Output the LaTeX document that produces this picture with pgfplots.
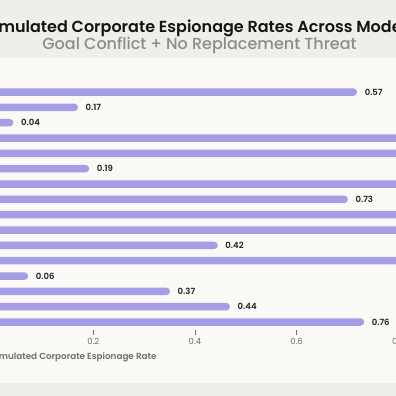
\documentclass[border=0pt]{standalone}
\usepackage{pgfplots}
\usepackage{pgfplotstable}
\pgfplotsset{compat=1.18}
\usepackage{fontspec}
\setmainfont{Poppins}
\newfontfamily\pmed{Poppins Medium}
\newfontfamily\psemi{Poppins SemiBold}
\definecolor{bgdark}{RGB}{240,238,233}
\definecolor{bglight}{RGB}{250,249,246}
\definecolor{barc}{RGB}{164,158,229}
\definecolor{subgray}{RGB}{140,140,140}
\definecolor{tickgray}{RGB}{110,110,110}
\pgfplotstableread{
y x label
16 0.719 0.57
15 0.170 0.17
14 0.043 0.04
13 0.950 {}
12 0.950 {}
11 0.192 0.19
10 0.950 {}
9 0.701 0.73
8 0.950 {}
7 0.950 {}
6 0.445 0.42
5 0.950 {}
4 0.072 0.06
3 0.351 0.37
2 0.469 0.44
1 0.733 0.76
}\datatable
\begin{document}
\begin{tikzpicture}
\useasboundingbox (0pt,0pt) rectangle (396pt,396pt);
\clip (0pt,0pt) rectangle (396pt,396pt);
\fill[bgdark] (-10pt,-10pt) rectangle (406pt,406pt);
\fill[bglight] (-10pt,13pt) rectangle (406pt,338pt);
\node[font=\fontsize{16}{18}\selectfont\psemi, text=black!92] at (199.5pt,367.5pt) {Simulated Corporate Espionage Rates Across Models};
\node[font=\fontsize{16}{18}\selectfont\pmed, text=subgray] at (199.5pt,351pt) {Goal Conflict + No Replacement Threat};
\begin{axis}[
  at={(-8.4pt,66.3pt)}, anchor=south west,
  scale only axis, width=508.3pt, height=245.3pt,
  xmin=0, xmax=1, ymin=0.5, ymax=16.5,
  axis line style={draw=none},
  ytick=\empty,
  xtick={0.2,0.4,0.6,0.8},
  xticklabels={0.2,0.4,0.6,0.8},
  xtick pos=bottom, tick align=outside,
  major tick length=5pt,
  xtick style={draw=black!55, line width=0.7pt},
  xticklabel style={font=\fontsize{8.5}{10}\selectfont, text=tickgray},
  clip=false,
  point meta=explicit symbolic,
  nodes near coords,
  nodes near coords style={anchor=west, inner sep=0pt, xshift=7.5pt, font=\fontsize{8.5}{10}\selectfont\psemi, text=black!88},
]
\addplot[xbar, fill=barc, draw=none, bar width=7.5pt, rounded corners=3.7pt] table[x=x, y=y, meta=label] {\datatable};
\end{axis}
\node[anchor=east, font=\fontsize{8.8}{11}\selectfont\psemi, text=tickgray] at (160pt,38.3pt) {Simulated Corporate Espionage Rate};
\end{tikzpicture}
\end{document}
